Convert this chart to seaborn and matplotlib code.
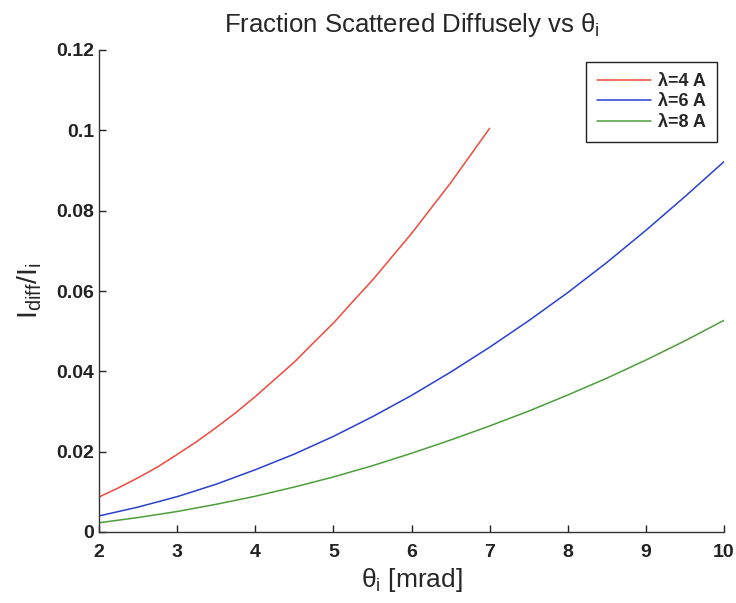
import numpy as np
import pandas as pd
import matplotlib
matplotlib.use("Agg")
import matplotlib.pyplot as plt
import seaborn as sns
from matplotlib.lines import Line2D

# ---- data ----
theta_red = [2.0, 2.25, 2.5, 2.75, 3.0, 3.25, 3.5, 3.75, 4.0, 4.25, 4.5, 4.75,
             5.0, 5.25, 5.5, 5.75, 6.0, 6.25, 6.5, 6.75, 7.0]
frac_red = [0.0087, 0.0110, 0.0135, 0.0162, 0.0193, 0.0225, 0.0260, 0.0297, 0.0337, 0.0380,
            0.0423, 0.0472, 0.0520, 0.0574, 0.0627, 0.0685, 0.0743, 0.0806, 0.0869, 0.0937, 0.1005]

theta_bg = [2.0, 2.5, 3.0, 3.5, 4.0, 4.5, 5.0, 5.5, 6.0, 6.5, 7.0, 7.5, 8.0, 8.5, 9.0, 9.5, 10.0]
frac_blue = [0.0040, 0.0062, 0.0088, 0.0119, 0.0155, 0.0194, 0.0238, 0.0287, 0.0340, 0.0398,
             0.0460, 0.0526, 0.0596, 0.0671, 0.0751, 0.0835, 0.0922]
frac_green = [0.0023, 0.0036, 0.0051, 0.0069, 0.0089, 0.0112, 0.0137, 0.0165, 0.0196, 0.0229,
              0.0264, 0.0301, 0.0341, 0.0383, 0.0428, 0.0476, 0.0527]

series_labels = ["λ=4 A", "λ=6 A", "λ=8 A"]
x_ticks = [2, 3, 4, 5, 6, 7, 8, 9, 10]
y_ticks = [0, 0.02, 0.04, 0.06, 0.08, 0.1, 0.12]
y_tick_labels = ["0", "0.02", "0.04", "0.06", "0.08", "0.1", "0.12"]

df = pd.concat([
    pd.DataFrame({"theta": theta_red, "frac": frac_red, "series": series_labels[0]}),
    pd.DataFrame({"theta": theta_bg, "frac": frac_blue, "series": series_labels[1]}),
    pd.DataFrame({"theta": theta_bg, "frac": frac_green, "series": series_labels[2]}),
], ignore_index=True)

sns.set_style("ticks")
plt.rcParams["font.family"] = ["Liberation Sans", "DejaVu Sans"]
plt.rcParams["mathtext.fontset"] = "custom"
plt.rcParams["mathtext.rm"] = "Liberation Sans"
plt.rcParams["mathtext.it"] = "Liberation Sans"
plt.rcParams["mathtext.bf"] = "Liberation Sans:bold"

fig = plt.figure(figsize=(7.36, 6.03), dpi=100)
ax = fig.add_axes([99 / 736, 1 - 532 / 603, (724 - 99) / 736, (532 - 50) / 603])

palette = {series_labels[0]: "#f04a3c", series_labels[1]: "#2a40d0", series_labels[2]: "#4c9e3c"}
sns.lineplot(data=df, x="theta", y="frac", hue="series", palette=palette,
             linewidth=1.1, ax=ax, legend=False)

ax.set_xlim(2, 10)
ax.set_ylim(0, 0.12)
ax.set_xticks(x_ticks)
ax.set_xticklabels([str(t) for t in x_ticks])
ax.set_yticks(y_ticks)
ax.set_yticklabels(y_tick_labels)
ax.tick_params(direction="in", length=5, width=1, labelsize=14, colors="#222222")
ax.tick_params(axis="x", pad=8.5)
ax.tick_params(axis="y", pad=3.5)
for lab in ax.get_xticklabels() + ax.get_yticklabels():
    lab.set_fontweight("bold")
for s in ["top", "right"]:
    ax.spines[s].set_visible(False)
for s in ["left", "bottom"]:
    ax.spines[s].set_color("#333333")
    ax.spines[s].set_linewidth(1.0)

ax.set_title(r"Fraction Scattered Diffusely vs $\theta_\mathrm{i}$", fontsize=18.5, pad=13)
ax.set_xlabel(r"$\theta_\mathrm{i}$ [mrad]", fontsize=19, labelpad=4)
ax.set_ylabel(r"$\mathrm{I_{diff}/I_i}$", fontsize=20.5, labelpad=9)

handles = [Line2D([], [], color=palette[l], linewidth=1.1) for l in series_labels]
leg = ax.legend(handles, series_labels, loc="upper right",
                bbox_to_anchor=((717 - 99) / 625, (532 - 62) / 482), borderaxespad=0,
                prop={"size": 13, "weight": "bold"}, frameon=True, fancybox=False,
                edgecolor="#222222", framealpha=1,
                handlelength=3.0, handletextpad=0.4, borderpad=0.6, labelspacing=0.2)
leg.get_frame().set_linewidth(1.0)

fig.savefig("out.png", dpi=100, facecolor="white")
